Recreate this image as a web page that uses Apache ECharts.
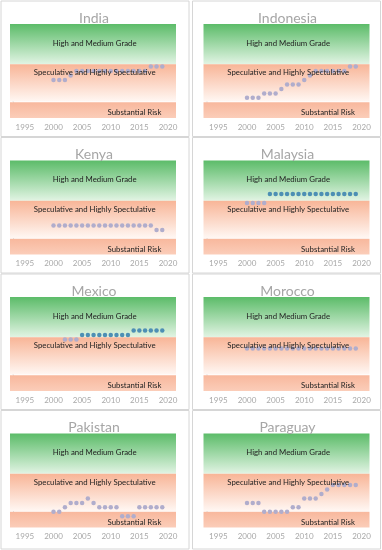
<!DOCTYPE html>
<html><head><meta charset="utf-8">
<script src="https://cdn.jsdelivr.net/npm/echarts@6/dist/echarts.min.js"></script>
<style>html,body{margin:0;padding:0;background:#fff}#c{width:382px;height:550px}</style>
</head><body><div id="c"></div>
<script>
// ---------- data ----------
const countries = ['India', 'Indonesia', 'Kenya', 'Malaysia', 'Mexico', 'Morocco', 'Pakistan', 'Paraguay'];
const years = [2000, 2001, 2002, 2003, 2004, 2005, 2006, 2007, 2008, 2009, 2010, 2011, 2012, 2013, 2014, 2015, 2016, 2017, 2018, 2019];
const india     = [8, 8, 8, 9, 10, 10, 10, 10, 10, 10, 10, 10, 10, 10, 10, 10, 10, 11, 11, 11];
const indonesia = [4, 4, 4, 5, 5, 5, 6, 7, 7, 7, 8, 9, 10, 10, 10, 10, 10, 10, 11, 11];
const kenya     = [6, 6, 6, 6, 6, 6, 6, 6, 6, 6, 6, 6, 6, 6, 6, 6, 6, 6, 5, 5];
const malaysia  = [11, 11, 11, 11, 13, 13, 13, 13, 13, 13, 13, 13, 13, 13, 13, 13, 13, 13, 13, 13];
const mexico    = [null, null, 11, 11, 11, 12, 12, 12, 12, 12, 12, 12, 12, 12, 13, 13, 13, 13, 13, 13];
const morocco   = [9, 9, 9, 9, 9, 9, 9, 9, 9, 9, 9, 9, 9, 9, 9, 9, 9, 9, 9, 9];
const pakistan  = [3, 3, 4, 5, 5, 5, 6, 5, 4, 4, 4, 4, 2, 2, 2, 4, 4, 4, 4, 4];
const paraguay  = [5, 5, 5, 3, 3, 3, 3, 3, 4, 4, 6, 6, 6, 7, 8, 9, 9, 9, 9, 9];
const seriesValues = [india, indonesia, kenya, malaysia, mexico, morocco, pakistan, paraguay];
const xTickLabels = [1995, 2000, 2005, 2010, 2015, 2020];
const yTickLabels = [0, 1, 2, 3, 4, 5, 6, 7, 8, 9, 10, 11, 12, 13, 14, 15, 16, 17, 18, 19, 20];
const bandNames = ['High and Medium Grade', 'Speculative and Highly Spectulative', 'Substantial Risk'];
const bandLow  = [11.5, 3.2, -0.5];
const bandHigh = [20.5, 11.5, 3.0];
const investmentThreshold = 11.5;

// ---------- layout / style ----------
const colLeft = [10, 203.5];
const gridW = 166, gridH = 94;
const rowTop = [24, 160.5, 297, 433.5];
const panelX = [[1, 189], [192.5, 380.5]];
const panelY = [[1, 136.5], [137.5, 273], [274, 409.5], [410.5, 549]];
const FONT = 'Lato, "Open Sans", sans-serif';
const bandColors = [
  {type: 'linear', x: 0, y: 0, x2: 0, y2: 1, colorStops: [{offset: 0, color: '#5cbc69'}, {offset: 1, color: '#e2f4e4'}]},
  {type: 'linear', x: 0, y: 0, x2: 0, y2: 1, colorStops: [{offset: 0, color: '#f8b597'}, {offset: 1, color: '#fff7f3'}]},
  {type: 'linear', x: 0, y: 0, x2: 0, y2: 1, colorStops: [{offset: 0, color: '#f8b89d'}, {offset: 1, color: '#fbcdb9'}]}
];
const labelPos = [['51%', '48%'], ['51%', '23%'], ['75%', '66%']];

const grids = [], xAxes = [], yAxes = [], series = [], graphics = [];
countries.forEach((name, i) => {
  const col = i % 2, row = Math.floor(i / 2);
  graphics.push({
    type: 'rect', silent: true, z: -10,
    shape: {x: panelX[col][0], y: panelY[row][0], width: panelX[col][1] - panelX[col][0], height: panelY[row][1] - panelY[row][0]},
    style: {fill: '#fff', stroke: '#d6d6d6', lineWidth: 1}
  });
  graphics.push({
    type: 'text', silent: true, z: 10,
    x: colLeft[col] + gridW / 2 + 1, y: rowTop[row] - 6,
    style: {text: name, fill: '#a6a6a6', font: '400 14px ' + FONT, align: 'center', verticalAlign: 'middle', textAlign: 'center', textVerticalAlign: 'middle'}
  });
  grids.push({left: colLeft[col], top: rowTop[row], width: gridW, height: gridH, containLabel: false});
  xAxes.push({
    type: 'value', gridIndex: i, min: 1992.4, max: 2021.4,
    axisLine: {show: false}, axisTick: {show: false, customValues: xTickLabels},
    axisLabel: {customValues: xTickLabels, color: '#a8a8a8', fontSize: 8, fontFamily: FONT, margin: 5, formatter: v => String(v)},
    splitLine: {show: true, lineStyle: {color: 'rgba(255,255,255,0.55)', width: 1}}
  });
  yAxes.push({
    type: 'value', gridIndex: i, min: -0.5, max: 20.5, interval: 1,
    axisLine: {show: false}, axisTick: {show: false},
    axisLabel: {customValues: yTickLabels, inside: true, color: '#c4c4c4', fontSize: 4, fontFamily: FONT, margin: 2},
    splitLine: {show: true, lineStyle: {color: 'rgba(255,255,255,0.6)', width: 0.8}}
  });
  const pts = years.map((y, k) => [y, seriesValues[i][k]]);
  series.push({
    type: 'line', xAxisIndex: i, yAxisIndex: i, z: 2,
    data: pts, connectNulls: false,
    lineStyle: {width: 0, opacity: 0},
    symbol: 'circle', symbolSize: 4.5, showSymbol: true,
    itemStyle: {color: p => (p.value[1] > investmentThreshold ? '#4d8fb4' : '#b0adcc')},
    silent: true, animation: false,
    markArea: {
      silent: true, z: 1,
      data: bandNames.map((b, k) => [
        {yAxis: bandLow[k], itemStyle: {color: bandColors[k]}},
        {yAxis: bandHigh[k]}
      ]),
      label: {show: false}
    }
  });
  series.push({
    type: 'line', xAxisIndex: i, yAxisIndex: i, z: 6,
    data: pts, showSymbol: false, symbol: 'none',
    lineStyle: {width: 0, opacity: 0},
    silent: true, animation: false,
    markArea: {
      silent: true, z: 8,
      itemStyle: {color: 'rgba(0,0,0,0)'},
      data: bandNames.map((b, k) => [
        {yAxis: bandLow[k], name: b,
         label: {show: true, position: labelPos[k], align: 'center', verticalAlign: 'middle',
                 color: '#222', fontSize: 7.8, fontFamily: FONT, formatter: b}},
        {yAxis: bandHigh[k]}
      ])
    }
  });
});

const chart = echarts.init(document.getElementById('c'), null, {renderer: 'canvas'});
chart.setOption({
  animation: false,
  backgroundColor: '#fff',
  grid: grids, xAxis: xAxes, yAxis: yAxes, series: series,
  graphic: {elements: graphics}
});
</script>
</body></html>
